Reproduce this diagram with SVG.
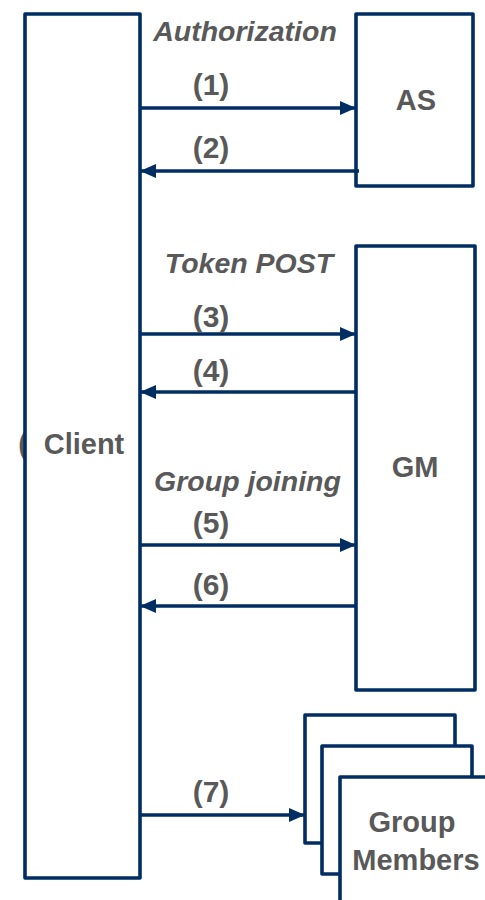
<svg xmlns="http://www.w3.org/2000/svg" width="485" height="900" viewBox="0 0 485 900">
<defs>
<style>
.box{fill:#fff;stroke:#002D62;stroke-width:3.6;stroke-linejoin:round}
.lbl{font-family:"Liberation Sans",Arial,sans-serif;font-weight:bold;fill:#595959;text-anchor:middle}
.it{font-style:italic}
.num{font-size:30px}
.conn{stroke:#002D62;stroke-width:3.6;fill:none;marker-end:url(#ah)}
</style>
<marker id="ah" viewBox="0 0 16 14" refX="15" refY="7" markerWidth="16" markerHeight="14" markerUnits="userSpaceOnUse" orient="auto">
<path d="M0,0L16,7L0,14z" fill="#002D62"/>
</marker>
</defs>
<rect width="485" height="900" fill="#fff"/>
<g id="client">
<text x="23" y="454" class="lbl" font-size="29">(</text>
<rect class="box" x="25" y="14" width="115" height="864"/>
<text x="84" y="454" class="lbl" font-size="29">Client</text>
</g>
<g id="as">
<rect class="box" x="356" y="14" width="117" height="172"/>
<text x="416" y="110" class="lbl" font-size="29">AS</text>
</g>
<g id="gm">
<rect class="box" x="356" y="246" width="119" height="444"/>
<text x="415" y="477" class="lbl" font-size="29">GM</text>
</g>
<g id="group-members">
<rect class="box" x="305" y="715" width="150" height="128"/>
<rect class="box" x="322" y="746" width="150" height="128"/>
<rect class="box" x="340" y="777" width="160" height="140"/>
<text x="412" y="832" class="lbl" font-size="29">Group</text>
<text x="416" y="870" class="lbl" font-size="29">Members</text>
</g>
<g id="labels">
<text x="245" y="41" class="lbl it" font-size="28.5">Authorization</text>
<text x="249" y="273" class="lbl it" font-size="28.5">Token POST</text>
<text x="247.5" y="491" class="lbl it" font-size="28.5">Group joining</text>
</g>
<g id="connectors">
<path class="conn" d="M141,108H355"/>
<text x="211" y="95" class="lbl num">(1)</text>
<path class="conn" d="M359,171H141"/>
<text x="211" y="158" class="lbl num">(2)</text>
<path class="conn" d="M141,334H355"/>
<text x="211" y="327" class="lbl num">(3)</text>
<path class="conn" d="M356,392H141"/>
<text x="211" y="381" class="lbl num">(4)</text>
<path class="conn" d="M141,545H355"/>
<text x="211" y="533" class="lbl num">(5)</text>
<path class="conn" d="M356,606H141"/>
<text x="211" y="595" class="lbl num">(6)</text>
<path class="conn" d="M141,815H304"/>
<text x="211" y="802" class="lbl num">(7)</text>
</g>
</svg>
